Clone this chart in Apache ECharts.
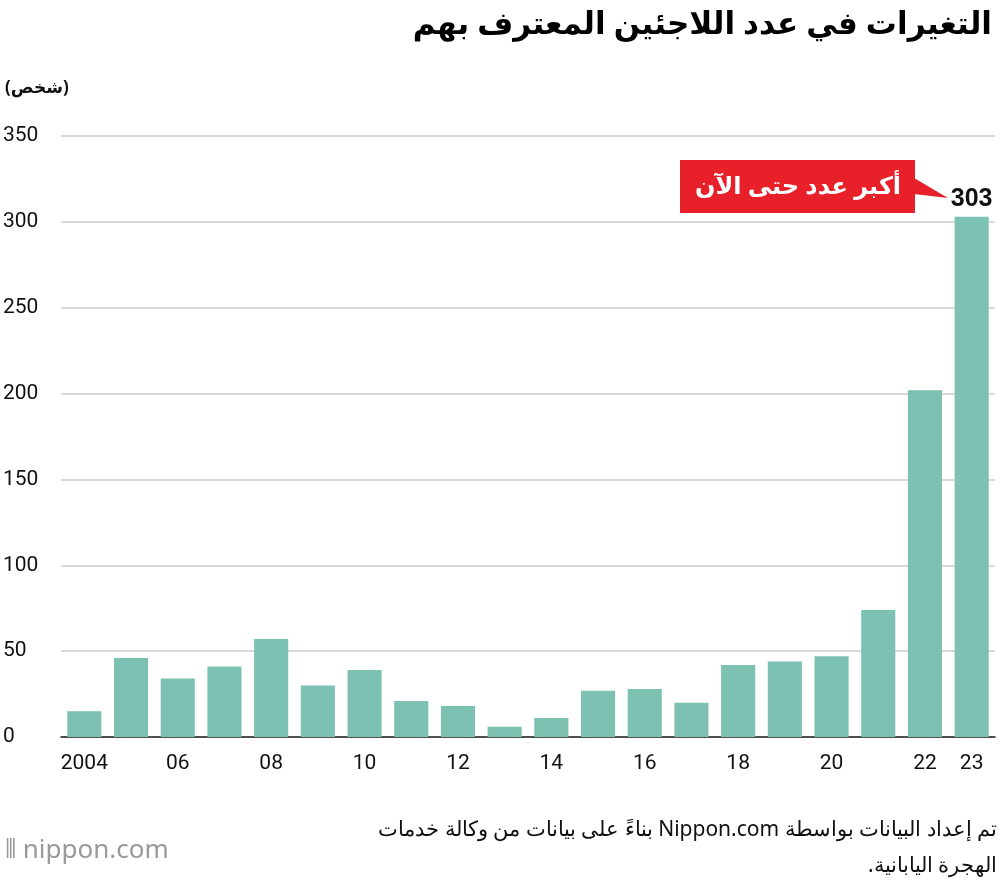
<!DOCTYPE html>
<html><head><meta charset="utf-8">
<script src="https://cdn.jsdelivr.net/npm/echarts@6/dist/echarts.min.js"></script>
<style>html,body{margin:0;background:#fff}#c{width:1000px;height:880px}
#src{position:absolute;right:3px;top:810px;width:760px;direction:rtl;text-align:right;font:21px "Noto Sans",sans-serif;line-height:36px;color:#111}</style>
</head><body><div id="c"></div>
<div id="src" dir="rtl">تم إعداد البيانات بواسطة Nippon.com بناءً على بيانات من وكالة خدمات<br>الهجرة اليابانية.</div>
<script>
const years = ['2004','2005','2006','2007','2008','2009','2010','2011','2012','2013','2014','2015','2016','2017','2018','2019','2020','2021','2022','2023'];
const tickLabels = {'2004':'2004','2006':'06','2008':'08','2010':'10','2012':'12','2014':'14','2016':'16','2018':'18','2020':'20','2022':'22','2023':'23'};
const refugees = [15,46,34,41,57,30,39,21,18,6,11,27,28,20,42,44,47,74,202,303];
const F = '"Noto Sans", "DejaVu Sans", sans-serif';
const N = 'Roboto, sans-serif';
const chart = echarts.init(document.getElementById('c'));
chart.setOption({
  animation:false,
  grid:{left:58,right:5,top:136,bottom:143},
  title:{text:'التغيرات في عدد اللاجئين المعترف بهم',right:3,top:5,textStyle:{fontFamily:F,fontSize:31,fontWeight:'bold',color:'#000'}},
  xAxis:{type:'category',data:years,axisTick:{show:false},
    axisLine:{lineStyle:{color:'#222',width:1.5}},
    axisLabel:{interval:0,fontFamily:N,fontSize:21,color:'#111',margin:16,formatter:v=>tickLabels[v]||''}},
  yAxis:{type:'value',min:0,max:350,interval:50,
    axisLabel:{fontFamily:N,fontSize:21,color:'#111',margin:58,align:'left',padding:[0,0,24,0]},
    splitLine:{lineStyle:{color:'#ccc',width:1.5}}},
  series:[{type:'bar',data:refugees,barCategoryGap:'27%',itemStyle:{color:'#7cc1b1'},
    label:{show:true,position:'top',fontFamily:'"Liberation Sans Narrow", "Liberation Sans", sans-serif',fontSize:25,fontWeight:'bold',color:'#111',
      formatter:p=>p.dataIndex===refugees.length-1?String(p.value):''}}],
  graphic:[
    {type:'text',left:5,top:80,style:{text:'(شخص)',font:'bold 17px '+F,fill:'#111'}},
    {type:'group',left:680,top:160,children:[
      {type:'rect',shape:{x:0,y:0,width:235,height:53},style:{fill:'#e8202a'}},
      {type:'polygon',shape:{points:[[234,18],[268,38],[234,34]]},style:{fill:'#e8202a'}},
      {type:'text',style:{x:118,y:27,text:'أكبر عدد حتى الآن',font:'bold 24px '+F,fill:'#fff',align:'center',verticalAlign:'middle'}}
    ]},
    {type:'text',left:5,top:838,style:{text:'⦀ nippon.com',font:'26px '+F,fill:'#999'}}
  ]
});
</script></body></html>
